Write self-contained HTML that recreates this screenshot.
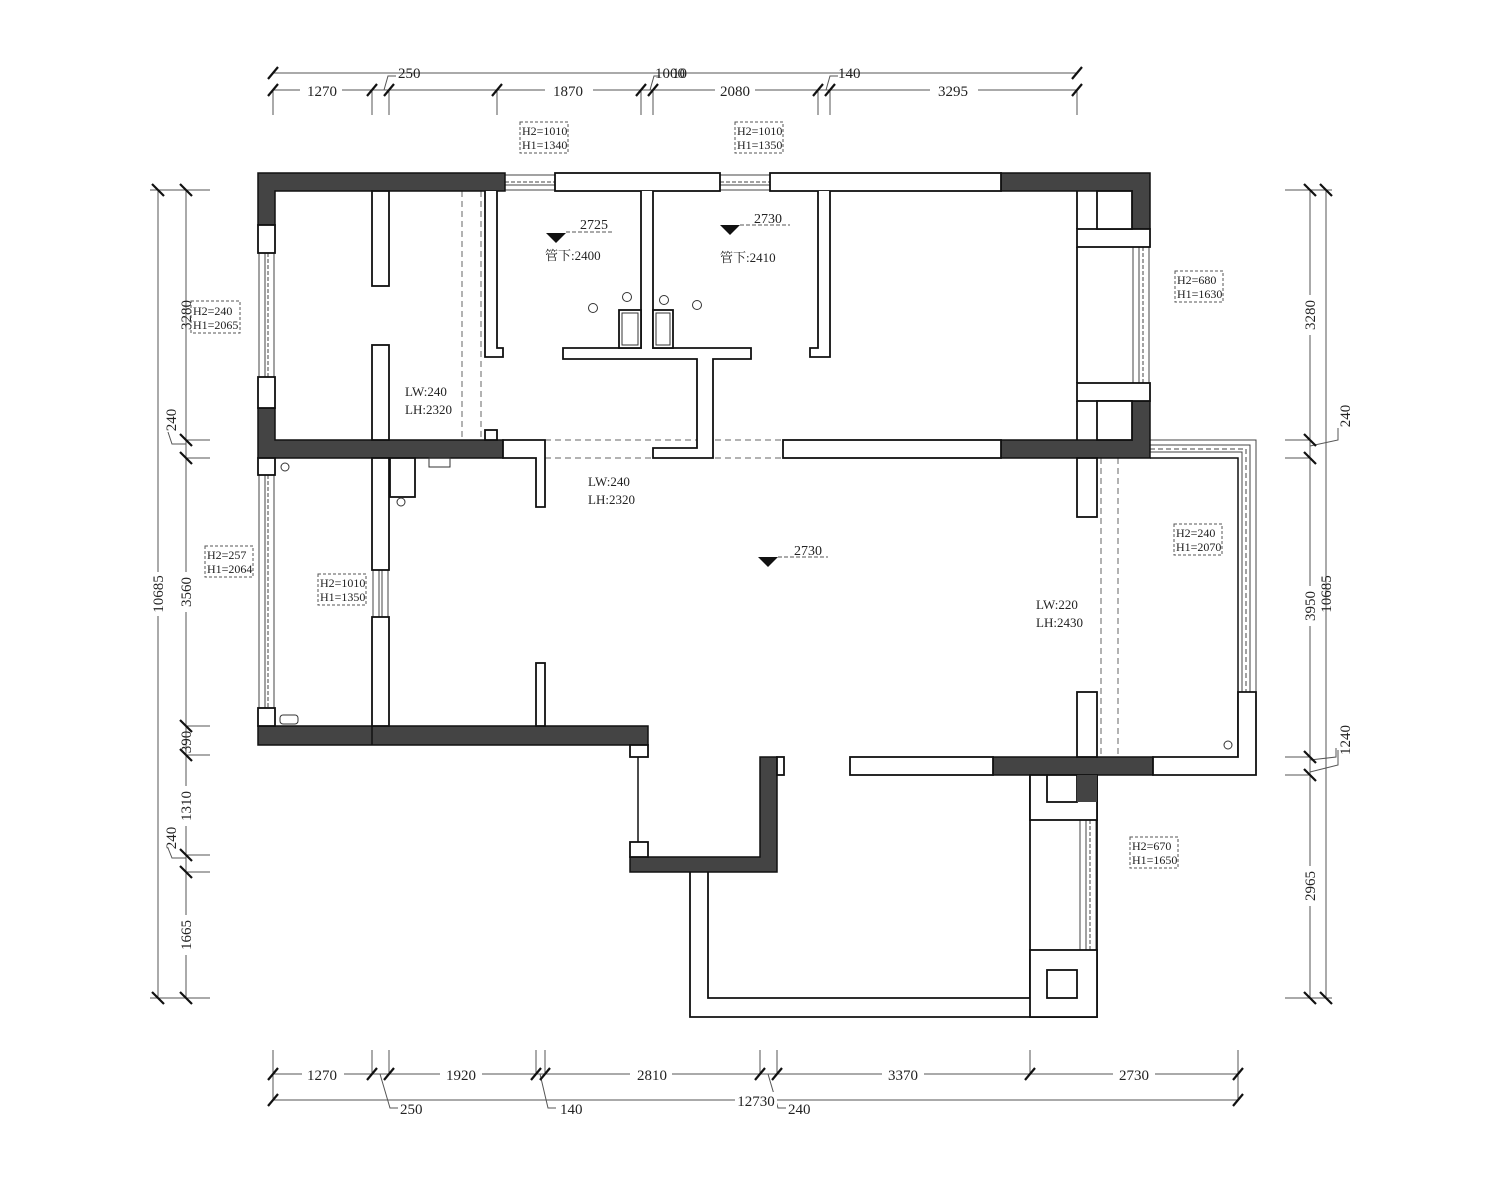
<!DOCTYPE html>
<html><head><meta charset="utf-8"><style>
html,body{margin:0;padding:0;background:#fff;}
svg{display:block}
text{font-family:"Liberation Serif","Noto Serif CJK SC",serif;fill:#222}
.t{font-size:15px}
.s{font-size:12px}
</style></head><body>
<svg width="1508" height="1181" viewBox="0 0 1508 1181" xmlns="http://www.w3.org/2000/svg">
<g stroke="#555" stroke-width="1" fill="none">
<line x1="273" y1="73" x2="1077" y2="73"/>
<line x1="273" y1="90" x2="1077" y2="90"/>
<line x1="273" y1="90" x2="273" y2="115"/><line x1="372" y1="90" x2="372" y2="115"/><line x1="389" y1="90" x2="389" y2="115"/><line x1="497" y1="90" x2="497" y2="115"/><line x1="641" y1="90" x2="641" y2="115"/><line x1="653" y1="90" x2="653" y2="115"/><line x1="818" y1="90" x2="818" y2="115"/><line x1="830" y1="90" x2="830" y2="115"/><line x1="1077" y1="90" x2="1077" y2="115"/>
<polyline points="384,90 388,76 396,76"/>
<polyline points="650,90 654,76 660,76"/>
<polyline points="826,90 830,76 838,76"/>
<line x1="273" y1="1074" x2="1238" y2="1074"/>
<line x1="273" y1="1100" x2="1238" y2="1100"/>
<line x1="273" y1="1050" x2="273" y2="1100"/><line x1="372" y1="1050" x2="372" y2="1074"/><line x1="389" y1="1050" x2="389" y2="1074"/><line x1="536" y1="1050" x2="536" y2="1074"/><line x1="545" y1="1050" x2="545" y2="1074"/><line x1="760" y1="1050" x2="760" y2="1074"/><line x1="777" y1="1050" x2="777" y2="1074"/><line x1="1030" y1="1050" x2="1030" y2="1074"/><line x1="1238" y1="1050" x2="1238" y2="1100"/>
<polyline points="380,1074 390,1108 398,1108"/>
<polyline points="540,1074 548,1108 556,1108"/>
<polyline points="768,1074 778,1108 786,1108"/>
<line x1="158" y1="190" x2="158" y2="998"/>
<line x1="186" y1="190" x2="186" y2="998"/>
<line x1="150" y1="190" x2="210" y2="190"/><line x1="186" y1="440" x2="210" y2="440"/><line x1="186" y1="458" x2="210" y2="458"/><line x1="186" y1="726" x2="210" y2="726"/><line x1="186" y1="755" x2="210" y2="755"/><line x1="186" y1="855" x2="210" y2="855"/><line x1="186" y1="872" x2="210" y2="872"/><line x1="150" y1="998" x2="210" y2="998"/>
<polyline points="186,444 172,444 168,432"/>
<polyline points="186,858 172,858 168,848"/>
<line x1="1326" y1="190" x2="1326" y2="998"/>
<line x1="1310" y1="190" x2="1310" y2="998"/>
<line x1="1285" y1="190" x2="1332" y2="190"/><line x1="1285" y1="440" x2="1310" y2="440"/><line x1="1285" y1="458" x2="1310" y2="458"/><line x1="1285" y1="757" x2="1310" y2="757"/><line x1="1285" y1="775" x2="1310" y2="775"/><line x1="1285" y1="998" x2="1332" y2="998"/>
<polyline points="1310,446 1338,440 1338,428"/>
<polyline points="1310,772 1338,765 1338,750"/>
<polyline points="1310,760 1336,757 1336,748"/>
</g>
<g stroke="#111" stroke-width="2.2">
<line x1="268" y1="79" x2="278" y2="67"/><line x1="1072" y1="79" x2="1082" y2="67"/>
<line x1="268" y1="96" x2="278" y2="84"/><line x1="367" y1="96" x2="377" y2="84"/><line x1="384" y1="96" x2="394" y2="84"/><line x1="492" y1="96" x2="502" y2="84"/><line x1="636" y1="96" x2="646" y2="84"/><line x1="648" y1="96" x2="658" y2="84"/><line x1="813" y1="96" x2="823" y2="84"/><line x1="825" y1="96" x2="835" y2="84"/><line x1="1072" y1="96" x2="1082" y2="84"/>
<line x1="268" y1="1080" x2="278" y2="1068"/><line x1="367" y1="1080" x2="377" y2="1068"/><line x1="384" y1="1080" x2="394" y2="1068"/><line x1="531" y1="1080" x2="541" y2="1068"/><line x1="540" y1="1080" x2="550" y2="1068"/><line x1="755" y1="1080" x2="765" y2="1068"/><line x1="772" y1="1080" x2="782" y2="1068"/><line x1="1025" y1="1080" x2="1035" y2="1068"/><line x1="1233" y1="1080" x2="1243" y2="1068"/>
<line x1="268" y1="1106" x2="278" y2="1094"/><line x1="1233" y1="1106" x2="1243" y2="1094"/>
<line x1="152" y1="184" x2="164" y2="196"/><line x1="180" y1="184" x2="192" y2="196"/><line x1="180" y1="434" x2="192" y2="446"/><line x1="180" y1="452" x2="192" y2="464"/><line x1="180" y1="720" x2="192" y2="732"/><line x1="180" y1="749" x2="192" y2="761"/><line x1="180" y1="849" x2="192" y2="861"/><line x1="180" y1="866" x2="192" y2="878"/><line x1="152" y1="992" x2="164" y2="1004"/><line x1="180" y1="992" x2="192" y2="1004"/>
<line x1="1320" y1="184" x2="1332" y2="196"/><line x1="1304" y1="184" x2="1316" y2="196"/><line x1="1304" y1="434" x2="1316" y2="446"/><line x1="1304" y1="452" x2="1316" y2="464"/><line x1="1304" y1="751" x2="1316" y2="763"/><line x1="1304" y1="769" x2="1316" y2="781"/><line x1="1320" y1="992" x2="1332" y2="1004"/><line x1="1304" y1="992" x2="1316" y2="1004"/>
</g>
<g class="t">
<rect x="300" y="82" width="42" height="16" fill="#fff"/><text x="322" y="96" text-anchor="middle">1270</text>
<text x="398" y="78">250</text>
<rect x="545" y="82" width="48" height="16" fill="#fff"/><text x="568" y="96" text-anchor="middle">1870</text>
<text x="655" y="78">1000</text><text x="672" y="78">10</text>
<rect x="715" y="82" width="40" height="16" fill="#fff"/><text x="735" y="96" text-anchor="middle">2080</text>
<text x="838" y="78">140</text>
<rect x="930" y="82" width="48" height="16" fill="#fff"/><text x="953" y="96" text-anchor="middle">3295</text>
<rect x="302" y="1066" width="42" height="16" fill="#fff"/><text x="322" y="1080" text-anchor="middle">1270</text>
<rect x="440" y="1066" width="42" height="16" fill="#fff"/><text x="461" y="1080" text-anchor="middle">1920</text>
<rect x="630" y="1066" width="42" height="16" fill="#fff"/><text x="652" y="1080" text-anchor="middle">2810</text>
<rect x="882" y="1066" width="42" height="16" fill="#fff"/><text x="903" y="1080" text-anchor="middle">3370</text>
<rect x="1113" y="1066" width="42" height="16" fill="#fff"/><text x="1134" y="1080" text-anchor="middle">2730</text>
<text x="400" y="1114">250</text><text x="560" y="1114">140</text>
<rect x="735" y="1092" width="42" height="16" fill="#fff"/><text x="756" y="1106" text-anchor="middle">12730</text><text x="788" y="1114">240</text>
<g transform="translate(163,594) rotate(-90)"><rect x="-22" y="-14" width="44" height="16" fill="#fff"/><text text-anchor="middle">10685</text></g>
<g transform="translate(191,315) rotate(-90)"><text text-anchor="middle">3280</text></g>
<g transform="translate(176,420) rotate(-90)"><text text-anchor="middle">240</text></g>
<g transform="translate(191,592) rotate(-90)"><rect x="-20" y="-14" width="40" height="16" fill="#fff"/><text text-anchor="middle">3560</text></g>
<g transform="translate(191,742) rotate(-90)"><text text-anchor="middle">390</text></g>
<g transform="translate(191,806) rotate(-90)"><rect x="-20" y="-14" width="40" height="16" fill="#fff"/><text text-anchor="middle">1310</text></g>
<g transform="translate(176,838) rotate(-90)"><text text-anchor="middle">240</text></g>
<g transform="translate(191,935) rotate(-90)"><rect x="-20" y="-14" width="40" height="16" fill="#fff"/><text text-anchor="middle">1665</text></g>
<g transform="translate(1315,315) rotate(-90)"><rect x="-20" y="-14" width="40" height="16" fill="#fff"/><text text-anchor="middle">3280</text></g>
<g transform="translate(1350,416) rotate(-90)"><text text-anchor="middle">240</text></g>
<g transform="translate(1315,606) rotate(-90)"><rect x="-20" y="-14" width="40" height="16" fill="#fff"/><text text-anchor="middle">3950</text></g>
<g transform="translate(1331,594) rotate(-90)"><text text-anchor="middle">10685</text></g>
<g transform="translate(1350,740) rotate(-90)"><text text-anchor="middle">1240</text></g>
<g transform="translate(1315,886) rotate(-90)"><rect x="-20" y="-14" width="40" height="16" fill="#fff"/><text text-anchor="middle">2965</text></g>
</g>

<g stroke="#444" stroke-width="1" fill="none">
<rect x="505" y="175" width="50" height="15"/><line x1="505" y1="182" x2="555" y2="182" stroke-dasharray="4,2"/><line x1="505" y1="185" x2="555" y2="185"/>
<rect x="720" y="175" width="50" height="15"/><line x1="720" y1="182" x2="770" y2="182" stroke-dasharray="4,2"/><line x1="720" y1="185" x2="770" y2="185"/>
<rect x="259" y="253" width="15" height="124"/><line x1="265" y1="253" x2="265" y2="377"/><line x1="268" y1="253" x2="268" y2="377" stroke-dasharray="4,2"/>
<rect x="259" y="475" width="15" height="233"/><line x1="265" y1="475" x2="265" y2="708"/><line x1="268" y1="475" x2="268" y2="708" stroke-dasharray="4,2"/>
<rect x="1133" y="247" width="16" height="136"/><line x1="1139" y1="247" x2="1139" y2="383"/><line x1="1143" y1="247" x2="1143" y2="383" stroke-dasharray="4,2"/>
<rect x="373" y="570" width="15" height="47"/><line x1="379" y1="570" x2="379" y2="617"/><line x1="382" y1="570" x2="382" y2="617"/>
<rect x="1080" y="820" width="16" height="130"/><line x1="1086" y1="820" x2="1086" y2="950"/><line x1="1090" y1="820" x2="1090" y2="950" stroke-dasharray="4,2"/>
<polyline points="1150,440 1256,440 1256,692"/>
<polyline points="1150,445 1250,445 1250,692"/>
<polyline points="1150,449 1246,449 1246,692" stroke-dasharray="5,3"/>
<polyline points="1150,452 1242,452 1242,692"/>
<polyline points="1150,458 1238,458 1238,757" stroke="#111" stroke-width="1.5"/>
<line x1="638" y1="757" x2="638" y2="842" stroke="#111" stroke-width="1.5"/>
</g>
<g stroke="#666" stroke-width="1" stroke-dasharray="6,4" fill="none">
<line x1="462" y1="191" x2="462" y2="440"/><line x1="481" y1="191" x2="481" y2="440"/>
<line x1="545" y1="440" x2="783" y2="440"/><line x1="545" y1="458" x2="783" y2="458"/>
<line x1="1101" y1="458" x2="1101" y2="757"/><line x1="1118" y1="458" x2="1118" y2="757"/>
</g>

<g fill="#444" stroke="#111" stroke-width="1.5">
<path d="M258,173 H505 V191 H275 V225 H258 Z"/>
<path d="M258,408 H275 V440 H503 V458 H258 Z"/>
<rect x="258" y="726" width="390" height="19"/>
<path d="M760,757 H777 V872 H630 V857 H760 Z"/>
<path d="M1001,173 H1150 V229 H1132 V191 H1001 Z"/>
<path d="M1132,401 H1150 V458 H1001 V440 H1132 Z"/>
<path d="M993,757 H1153 V775 H1097 V802 H1077 V775 H993 Z"/>
</g>
<line x1="372" y1="726" x2="372" y2="745" stroke="#111" stroke-width="1.5"/>
<g fill="#fff" stroke="#111" stroke-width="1.8">
<rect x="258" y="225" width="17" height="28"/><rect x="258" y="377" width="17" height="31"/>
<rect x="258" y="458" width="17" height="17"/><rect x="258" y="708" width="17" height="18"/>
<rect x="555" y="173" width="165" height="18"/><rect x="770" y="173" width="231" height="18"/>
<path d="M503,440 H545 V507 H536 V458 H503 Z"/>
<rect x="783" y="440" width="218" height="18"/>
<rect x="372" y="191" width="17" height="95"/><rect x="372" y="345" width="17" height="95"/>
<rect x="372" y="458" width="17" height="112"/><rect x="372" y="617" width="17" height="109"/>
<rect x="536" y="663" width="9" height="63"/>
<path d="M485,191 V357 H503 V348 H497 V191"/>
<rect x="485" y="430" width="12" height="10"/>
<path d="M641,191 V348 H563 V359 H697 V448 H653 V458 H713 V359 H751 V348 H653 V191"/>
<path d="M818,191 V348 H810 V357 H830 V191"/>
<rect x="1077" y="229" width="73" height="18"/><rect x="1077" y="383" width="73" height="18"/>
<path d="M1077,191 V229 M1077,247 V383 M1077,401 V440"/>
<rect x="1097" y="191" width="35" height="38"/><rect x="1097" y="401" width="35" height="39"/>
<rect x="1077" y="458" width="20" height="59"/><rect x="1077" y="692" width="20" height="65"/>
<rect x="850" y="757" width="143" height="18"/>
<path d="M1153,757 H1238 V692 H1256 V775 H1153 Z"/>
<rect x="630" y="745" width="18" height="12"/><rect x="630" y="842" width="18" height="15"/>
<rect x="777" y="757" width="7" height="18"/>
<path d="M690,872 V1017 H1097 V775" fill="none"/>
<path d="M708,872 V998 H1030 V775" fill="none"/>
<rect x="1030" y="775" width="67" height="45"/><rect x="1047" y="775" width="30" height="27"/>
<rect x="1030" y="950" width="67" height="67"/><rect x="1047" y="970" width="30" height="28"/>
<rect x="390" y="458" width="25" height="39"/>
<rect x="619" y="310" width="22" height="38"/><rect x="653" y="310" width="20" height="38"/>
</g>
<path d="M1077,802 H1097 V775 H1077 Z" fill="#444"/>
<g stroke="#333" stroke-width="1" fill="none">
<rect x="622" y="313" width="16" height="32"/><rect x="656" y="313" width="14" height="32"/>
<circle cx="627" cy="297" r="4.5"/><circle cx="593" cy="308" r="4.5"/><circle cx="664" cy="300" r="4.5"/><circle cx="697" cy="305" r="4.5"/>
<circle cx="285" cy="467" r="4"/><circle cx="401" cy="502" r="4"/><circle cx="1228" cy="745" r="4"/>
<rect x="429" y="458" width="21" height="9"/>
<rect x="280" y="715" width="18" height="9" rx="3"/>
</g>
<g fill="#111">
<path d="M546,233 H566 L556,243 Z"/><path d="M720,225 H740 L730,235 Z"/><path d="M758,557 H778 L768,567 Z"/>
</g>
<g stroke="#555" stroke-dasharray="4,2">
<line x1="566" y1="232" x2="614" y2="232"/><line x1="740" y1="225" x2="790" y2="225"/><line x1="778" y1="557" x2="828" y2="557"/>
</g>
<g style="font-family:'Liberation Sans',sans-serif;font-size:14px">
<text x="580" y="229">2725</text><text x="754" y="223">2730</text><text x="794" y="555">2730</text>
</g>
<g class="t" style="font-family:'Liberation Mono','Noto Sans CJK SC',monospace;font-size:13px">
<text x="545" y="260">管下:2400</text><text x="720" y="262">管下:2410</text>
<text x="405" y="396">LW:240</text><text x="405" y="414">LH:2320</text>
<text x="588" y="486">LW:240</text><text x="588" y="504">LH:2320</text>
<text x="1036" y="609">LW:220</text><text x="1036" y="627">LH:2430</text>
</g>
<g stroke="#555" stroke-dasharray="3,2" fill="#fff">
<rect x="520" y="122" width="48" height="31"/><rect x="735" y="122" width="48" height="31"/>
<rect x="191" y="301" width="49" height="32"/><rect x="205" y="546" width="48" height="31"/>
<rect x="318" y="574" width="48" height="31"/><rect x="1175" y="271" width="48" height="31"/>
<rect x="1174" y="524" width="48" height="31"/><rect x="1130" y="837" width="48" height="31"/>
</g>
<g class="s">
<text x="522" y="135">H2=1010</text><text x="522" y="149">H1=1340</text>
<text x="737" y="135">H2=1010</text><text x="737" y="149">H1=1350</text>
<text x="193" y="315">H2=240</text><text x="193" y="329">H1=2065</text>
<text x="207" y="559">H2=257</text><text x="207" y="573">H1=2064</text>
<text x="320" y="587">H2=1010</text><text x="320" y="601">H1=1350</text>
<text x="1177" y="284">H2=680</text><text x="1177" y="298">H1=1630</text>
<text x="1176" y="537">H2=240</text><text x="1176" y="551">H1=2070</text>
<text x="1132" y="850">H2=670</text><text x="1132" y="864">H1=1650</text>
</g>
</svg>
</body></html>
